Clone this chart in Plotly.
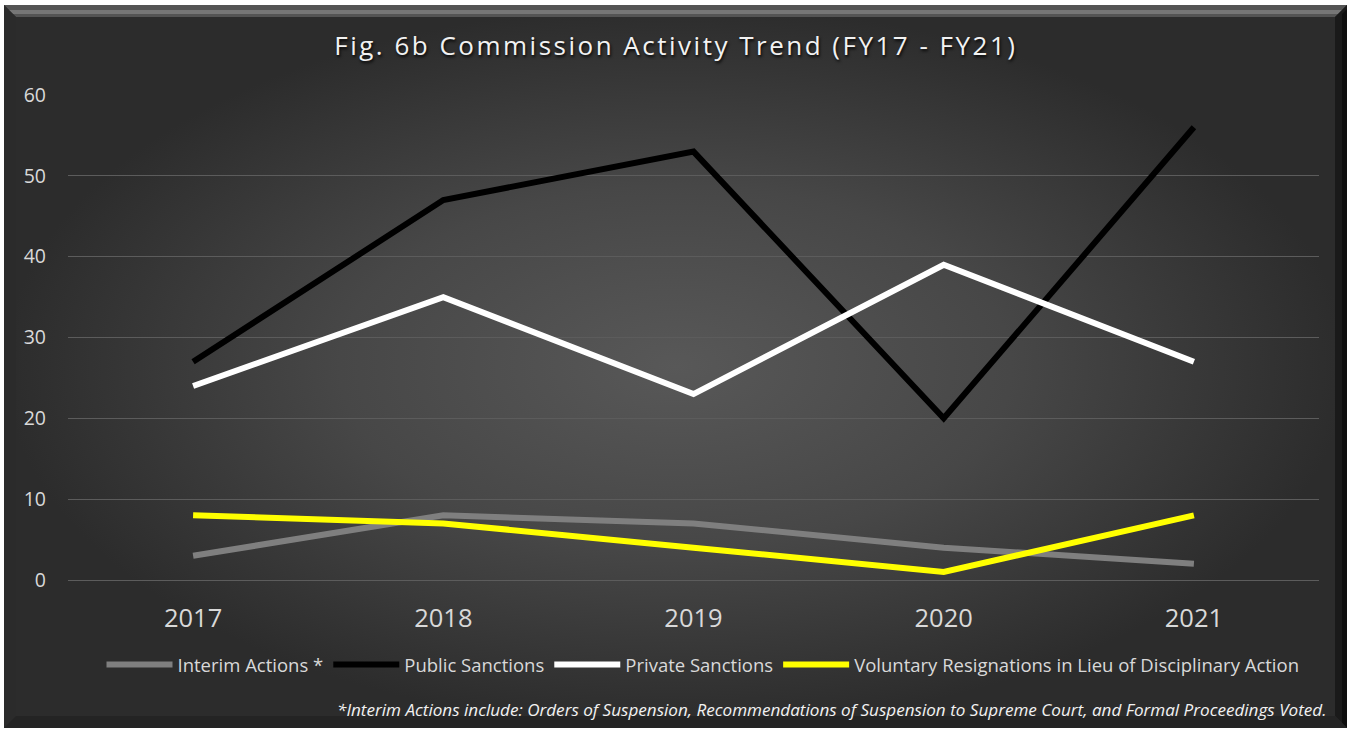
import plotly.graph_objects as go

W, H = 1352, 731

years = ["2017", "2018", "2019", "2020", "2021"]
interim_actions = [3, 8, 7, 4, 2]
public_sanctions = [27, 47, 53, 20, 56]
private_sanctions = [24, 35, 23, 39, 27]
voluntary_resignations = [8, 7, 4, 1, 8]

series_names = [
    "Interim Actions *",
    "Public Sanctions",
    "Private Sanctions",
    "Voluntary Resignations in Lieu of Disciplinary Action",
]
series_colors = ["#7f7f7f", "#000000", "#ffffff", "#ffff00"]
y_ticks = [0, 10, 20, 30, 40, 50, 60]

title_text = "Fig. 6b Commission Activity Trend (FY17 - FY21)"
footnote_text = ("*Interim Actions include: Orders of Suspension, Recommendations of "
                 "Suspension to Supreme Court, and Formal Proceedings Voted.")

# frame geometry (pixel units on a hidden full-page axis)
BX0, BY0, BX1, BY1 = 4, 5, 1347, 728
BEV = 12

fig = go.Figure()

# background panel with radial gradient (decorative)
fig.add_trace(go.Scatter(
    x=[BX0, BX1, BX1, BX0, BX0], y=[BY0, BY0, BY1, BY1, BY0],
    xaxis="x", yaxis="y", mode="lines", line=dict(width=0),
    fill="toself",
    fillgradient=dict(type="radial", colorscale=[[0, "#585858"], [0.5, "#474747"], [1, "#2c2c2c"]]),
    hoverinfo="skip", showlegend=False,
))

for name, vals, col in zip(series_names,
                           [interim_actions, public_sanctions, private_sanctions, voluntary_resignations],
                           series_colors):
    fig.add_trace(go.Scatter(
        x=years, y=vals, name=name, mode="lines",
        line=dict(color=col, width=6),
        xaxis="x2", yaxis="y2",
    ))

def trap(pts, color):
    p = "M" + " L".join(f"{x},{y}" for x, y in pts) + " Z"
    return dict(type="path", xref="x", yref="y", path=p, fillcolor=color,
                line=dict(width=0), layer="above")

shapes = [
    trap([(BX0, BY0), (BX1, BY0), (BX1 - BEV, BY0 + BEV), (BX0 + BEV, BY0 + BEV)], "#545454"),
    trap([(BX0 + 5, BY0 + 5), (BX1 - 5, BY0 + 5), (BX1 - 9, BY0 + 9), (BX0 + 9, BY0 + 9)], "#767676"),
    trap([(BX0, BY0), (BX0 + BEV, BY0 + BEV), (BX0 + BEV, BY1 - BEV), (BX0, BY1)], "#2b2b2b"),
    trap([(BX1, BY0), (BX1 - BEV, BY0 + BEV), (BX1 - BEV, BY1 - BEV), (BX1, BY1)], "#1a1a1a"),
    trap([(BX1, BY0 + 4), (BX1 - 5, BY0 + 9), (BX1 - 5, BY1 - 5), (BX1, BY1)], "#0e0e0e"),
    trap([(BX0, BY1), (BX0 + BEV, BY1 - BEV), (BX1 - BEV, BY1 - BEV), (BX1, BY1)], "#242424"),
]

font_family = "Open Sans, Lato, sans-serif"

fig.update_layout(
    width=W, height=H,
    margin=dict(l=0, r=0, t=0, b=0, autoexpand=False),
    paper_bgcolor="#ffffff",
    plot_bgcolor="rgba(0,0,0,0)",
    font=dict(family=font_family, color="#d9d9d9"),
    showlegend=True,
    shapes=shapes,
    xaxis=dict(domain=[0, 1], range=[0, W], visible=False, fixedrange=True, automargin=False),
    yaxis=dict(domain=[0, 1], range=[H, 0], visible=False, fixedrange=True, automargin=False),
    xaxis2=dict(
        domain=[68 / W, 1319 / W], anchor="y2", type="category", automargin=False,
        range=[-0.5, 4.5], showgrid=False, zeroline=False, showline=False,
        ticks="", tickfont=dict(size=25.5, color="#d9d9d9"), ticklabelstandoff=20,
    ),
    yaxis2=dict(
        domain=[(H - 580) / H, (H - 95) / H], anchor="x2", automargin=False,
        range=[0, 60], tickvals=y_ticks, showgrid=True, gridcolor="#5c5c5c", gridwidth=1,
        zeroline=True, zerolinecolor="#5c5c5c", zerolinewidth=1, showline=False,
        ticks="", tickfont=dict(size=19.5, color="#d9d9d9"), ticklabelstandoff=21,
    ),
    legend=dict(
        orientation="h", x=703 / W, xanchor="center", y=(H - 665) / H, yanchor="middle",
        bgcolor="rgba(0,0,0,0)", font=dict(size=18.5, color="#d9d9d9"),
        itemwidth=66,
    ),
    annotations=[
        dict(text=title_text, xref="paper", yref="paper", x=0.5, y=(H - 45) / H,
             xanchor="center", yanchor="middle", showarrow=False,
             font=dict(size=26, color="#f2f2f2", shadow="1px 2px 3px rgba(0,0,0,0.9)")),
        dict(text=f"<i>{footnote_text}</i>", xref="paper", yref="paper", x=1328 / W, y=(H - 709) / H,
             xanchor="right", yanchor="middle", showarrow=False,
             font=dict(size=17.1, color="#f2f2f2")),
    ],
)

post = """
document.documentElement.style.margin = '0';
document.body.style.margin = '0';
document.body.style.padding = '0';
var t = document.querySelectorAll('.annotation-text');
if (t.length) { t[0].style.letterSpacing = '2.5px'; }
"""

fig.write_html("out.html", post_script=post, config={"displayModeBar": False})
